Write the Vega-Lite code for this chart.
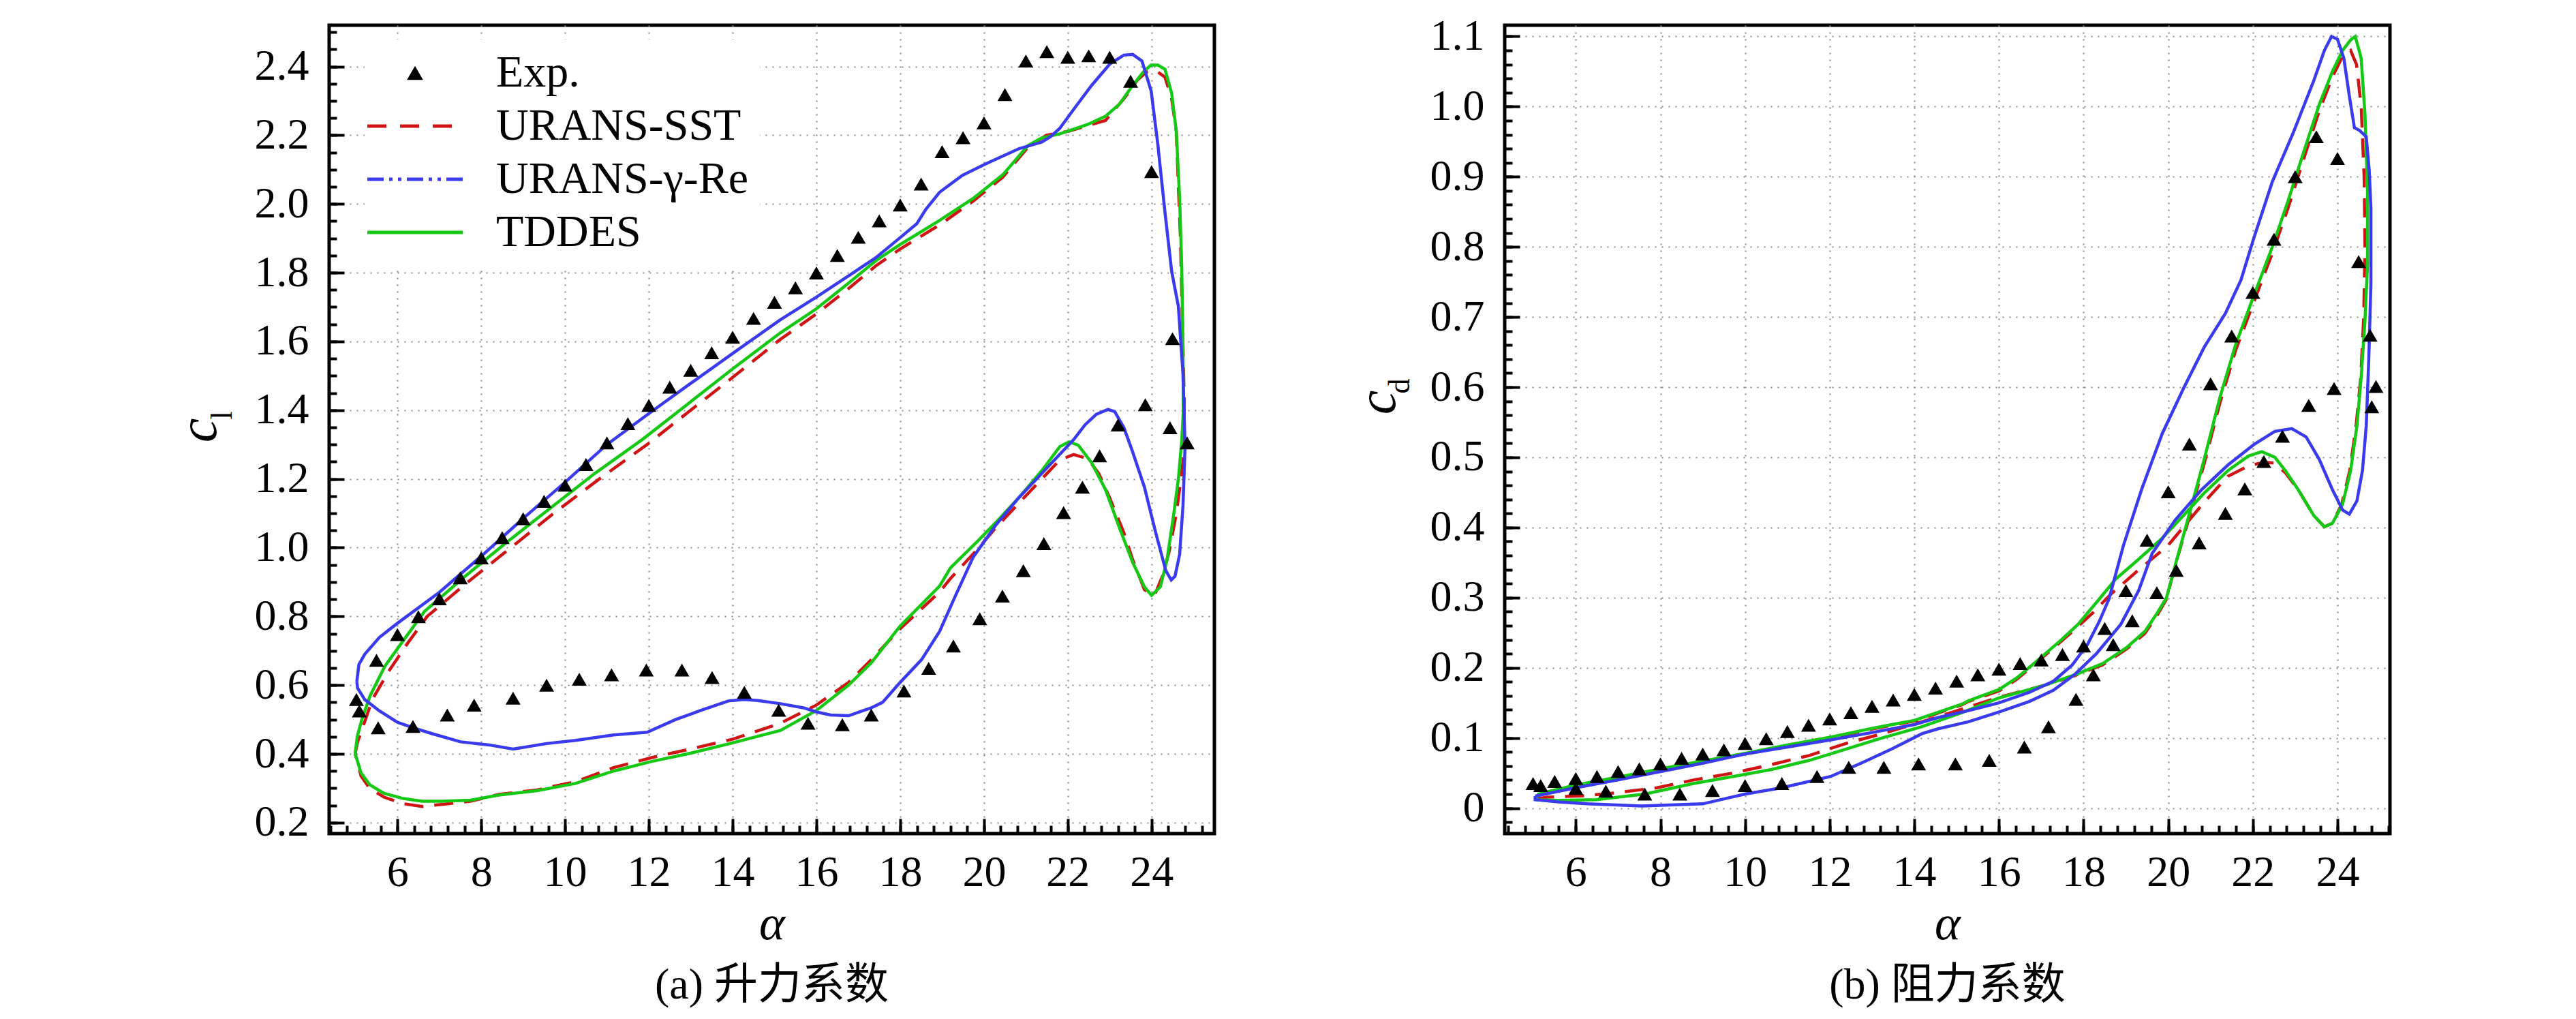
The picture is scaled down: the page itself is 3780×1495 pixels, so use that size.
{
  "$schema": "https://vega.github.io/schema/vega-lite/v6.json",
  "background": "white",
  "padding": {"left": 249, "top": 18, "right": 5, "bottom": 5},
  "spacing": 194,
  "datasets": {
    "liftExp": [
      {"a":5.02,"v":0.558},{"a":5.09,"v":0.525},{"a":5.54,"v":0.476},{"a":6.37,"v":0.48},{"a":7.19,"v":0.513},{"a":7.83,"v":0.542},{"a":8.76,"v":0.562},{"a":9.56,"v":0.6},{"a":10.34,"v":0.617},{"a":11.11,"v":0.63},{"a":11.94,"v":0.644},{"a":12.79,"v":0.644},{"a":13.51,"v":0.622},{"a":14.28,"v":0.579},{"a":15.1,"v":0.527},{"a":15.8,"v":0.489},{"a":16.62,"v":0.485},{"a":17.31,"v":0.513},{"a":18.09,"v":0.583},{"a":18.68,"v":0.649},{"a":19.27,"v":0.714},{"a":19.9,"v":0.793},{"a":20.44,"v":0.859},{"a":20.94,"v":0.933},{"a":21.43,"v":1.012},{"a":21.9,"v":1.102},{"a":22.35,"v":1.176},{"a":22.76,"v":1.267},{"a":23.2,"v":1.357},{"a":23.85,"v":1.416},{"a":24.44,"v":1.349},{"a":24.85,"v":1.305},
      {"a":5.5,"v":0.672},{"a":6.0,"v":0.747},{"a":6.5,"v":0.799},{"a":7.0,"v":0.851},{"a":7.5,"v":0.912},{"a":8.0,"v":0.97},{"a":8.5,"v":1.029},{"a":9.0,"v":1.084},{"a":9.5,"v":1.135},{"a":10.0,"v":1.182},{"a":10.5,"v":1.242},{"a":11.0,"v":1.305},{"a":11.5,"v":1.361},{"a":12.0,"v":1.414},{"a":12.5,"v":1.467},{"a":13.0,"v":1.516},{"a":13.5,"v":1.567},{"a":14.0,"v":1.612},{"a":14.5,"v":1.667},{"a":15.0,"v":1.714},{"a":15.5,"v":1.756},{"a":16.0,"v":1.799},{"a":16.5,"v":1.85},{"a":17.0,"v":1.903},{"a":17.5,"v":1.951},{"a":18.0,"v":1.997},{"a":18.5,"v":2.058},{"a":19.0,"v":2.152},{"a":19.5,"v":2.193},{"a":20.0,"v":2.236},{"a":20.5,"v":2.318},{"a":21.0,"v":2.416},{"a":21.5,"v":2.443},{"a":22.0,"v":2.427},{"a":22.5,"v":2.431},{"a":23.0,"v":2.427},{"a":23.5,"v":2.357},{"a":24.0,"v":2.094},{"a":24.5,"v":1.608}
    ],
    "liftCfd": [
      {"m":"URANS-SST","a":4.99,"v":0.4},{"m":"URANS-SST","a":5.05,"v":0.435},{"m":"URANS-SST","a":5.17,"v":0.476},{"m":"URANS-SST","a":5.4,"v":0.558},{"m":"URANS-SST","a":5.79,"v":0.64},{"m":"URANS-SST","a":6.25,"v":0.723},{"m":"URANS-SST","a":6.71,"v":0.8},{"m":"URANS-SST","a":7.68,"v":0.9},{"m":"URANS-SST","a":8.71,"v":1.0},{"m":"URANS-SST","a":9.73,"v":1.1},{"m":"URANS-SST","a":10.82,"v":1.2},{"m":"URANS-SST","a":11.96,"v":1.3},{"m":"URANS-SST","a":13.0,"v":1.4},{"m":"URANS-SST","a":14.05,"v":1.5},{"m":"URANS-SST","a":15.14,"v":1.606},{"m":"URANS-SST","a":16.0,"v":1.68},{"m":"URANS-SST","a":16.77,"v":1.754},{"m":"URANS-SST","a":17.42,"v":1.82},{"m":"URANS-SST","a":18.0,"v":1.869},{"m":"URANS-SST","a":18.94,"v":1.939},{"m":"URANS-SST","a":19.74,"v":2.008},{"m":"URANS-SST","a":20.45,"v":2.078},{"m":"URANS-SST","a":21.05,"v":2.165},{"m":"URANS-SST","a":21.49,"v":2.2},{"m":"URANS-SST","a":22.03,"v":2.212},{"m":"URANS-SST","a":22.9,"v":2.243},{"m":"URANS-SST","a":23.34,"v":2.306},{"m":"URANS-SST","a":23.66,"v":2.36},{"m":"URANS-SST","a":23.88,"v":2.384},{"m":"URANS-SST","a":24.1,"v":2.388},{"m":"URANS-SST","a":24.32,"v":2.369},{"m":"URANS-SST","a":24.48,"v":2.306},{"m":"URANS-SST","a":24.59,"v":2.212},{"m":"URANS-SST","a":24.64,"v":2.055},{"m":"URANS-SST","a":24.69,"v":1.898},{"m":"URANS-SST","a":24.72,"v":1.741},{"m":"URANS-SST","a":24.75,"v":1.584},{"m":"URANS-SST","a":24.78,"v":1.427},{"m":"URANS-SST","a":24.78,"v":1.28},{"m":"URANS-SST","a":24.7,"v":1.2},{"m":"URANS-SST","a":24.59,"v":1.098},{"m":"URANS-SST","a":24.42,"v":0.988},{"m":"URANS-SST","a":24.26,"v":0.917},{"m":"URANS-SST","a":24.1,"v":0.87},{"m":"URANS-SST","a":24.0,"v":0.862},{"m":"URANS-SST","a":23.83,"v":0.878},{"m":"URANS-SST","a":23.55,"v":0.965},{"m":"URANS-SST","a":23.34,"v":1.043},{"m":"URANS-SST","a":23.0,"v":1.145},{"m":"URANS-SST","a":22.74,"v":1.216},{"m":"URANS-SST","a":22.47,"v":1.259},{"m":"URANS-SST","a":22.14,"v":1.271},{"m":"URANS-SST","a":21.81,"v":1.255},{"m":"URANS-SST","a":21.38,"v":1.2},{"m":"URANS-SST","a":20.83,"v":1.129},{"m":"URANS-SST","a":20.29,"v":1.059},{"m":"URANS-SST","a":19.85,"v":0.996},{"m":"URANS-SST","a":19.2,"v":0.91},{"m":"URANS-SST","a":18.94,"v":0.871},{"m":"URANS-SST","a":18.0,"v":0.764},{"m":"URANS-SST","a":17.31,"v":0.674},{"m":"URANS-SST","a":16.77,"v":0.608},{"m":"URANS-SST","a":16.0,"v":0.542},{"m":"URANS-SST","a":15.14,"v":0.489},{"m":"URANS-SST","a":14.01,"v":0.443},{"m":"URANS-SST","a":12.99,"v":0.414},{"m":"URANS-SST","a":12.07,"v":0.389},{"m":"URANS-SST","a":11.16,"v":0.36},{"m":"URANS-SST","a":10.25,"v":0.319},{"m":"URANS-SST","a":9.33,"v":0.295},{"m":"URANS-SST","a":8.42,"v":0.282},{"m":"URANS-SST","a":7.74,"v":0.262},{"m":"URANS-SST","a":7.05,"v":0.253},{"m":"URANS-SST","a":6.59,"v":0.247},{"m":"URANS-SST","a":6.14,"v":0.255},{"m":"URANS-SST","a":5.68,"v":0.274},{"m":"URANS-SST","a":5.34,"v":0.299},{"m":"URANS-SST","a":5.13,"v":0.336},{"m":"URANS-SST","a":5.03,"v":0.385},{"m":"URANS-SST","a":4.99,"v":0.4},
      {"m":"TDDES","a":4.99,"v":0.4},{"m":"TDDES","a":5.04,"v":0.45},{"m":"TDDES","a":5.15,"v":0.5},{"m":"TDDES","a":5.35,"v":0.57},{"m":"TDDES","a":5.7,"v":0.655},{"m":"TDDES","a":6.2,"v":0.74},{"m":"TDDES","a":6.65,"v":0.815},{"m":"TDDES","a":7.6,"v":0.915},{"m":"TDDES","a":8.6,"v":1.015},{"m":"TDDES","a":9.65,"v":1.115},{"m":"TDDES","a":10.7,"v":1.215},{"m":"TDDES","a":11.85,"v":1.315},{"m":"TDDES","a":12.9,"v":1.415},{"m":"TDDES","a":14.0,"v":1.52},{"m":"TDDES","a":15.14,"v":1.625},{"m":"TDDES","a":16.0,"v":1.695},{"m":"TDDES","a":16.77,"v":1.77},{"m":"TDDES","a":17.42,"v":1.835},{"m":"TDDES","a":18.0,"v":1.882},{"m":"TDDES","a":18.94,"v":1.952},{"m":"TDDES","a":19.74,"v":2.016},{"m":"TDDES","a":20.45,"v":2.085},{"m":"TDDES","a":21.05,"v":2.17},{"m":"TDDES","a":21.38,"v":2.192},{"m":"TDDES","a":21.81,"v":2.204},{"m":"TDDES","a":22.47,"v":2.231},{"m":"TDDES","a":22.9,"v":2.255},{"m":"TDDES","a":23.23,"v":2.29},{"m":"TDDES","a":23.55,"v":2.345},{"m":"TDDES","a":23.83,"v":2.388},{"m":"TDDES","a":23.99,"v":2.404},{"m":"TDDES","a":24.15,"v":2.404},{"m":"TDDES","a":24.32,"v":2.392},{"m":"TDDES","a":24.48,"v":2.322},{"m":"TDDES","a":24.59,"v":2.212},{"m":"TDDES","a":24.67,"v":2.016},{"m":"TDDES","a":24.72,"v":1.82},{"m":"TDDES","a":24.75,"v":1.584},{"m":"TDDES","a":24.76,"v":1.4},{"m":"TDDES","a":24.72,"v":1.31},{"m":"TDDES","a":24.64,"v":1.2},{"m":"TDDES","a":24.53,"v":1.098},{"m":"TDDES","a":24.37,"v":0.965},{"m":"TDDES","a":24.21,"v":0.886},{"m":"TDDES","a":24.0,"v":0.861},{"m":"TDDES","a":23.83,"v":0.886},{"m":"TDDES","a":23.55,"v":0.957},{"m":"TDDES","a":23.23,"v":1.059},{"m":"TDDES","a":22.9,"v":1.169},{"m":"TDDES","a":22.57,"v":1.247},{"m":"TDDES","a":22.25,"v":1.298},{"m":"TDDES","a":22.03,"v":1.308},{"m":"TDDES","a":21.81,"v":1.294},{"m":"TDDES","a":21.38,"v":1.224},{"m":"TDDES","a":20.83,"v":1.145},{"m":"TDDES","a":20.29,"v":1.074},{"m":"TDDES","a":19.85,"v":1.019},{"m":"TDDES","a":19.2,"v":0.941},{"m":"TDDES","a":18.94,"v":0.888},{"m":"TDDES","a":18.0,"v":0.772},{"m":"TDDES","a":17.31,"v":0.665},{"m":"TDDES","a":16.77,"v":0.6},{"m":"TDDES","a":16.0,"v":0.526},{"m":"TDDES","a":15.14,"v":0.468},{"m":"TDDES","a":14.0,"v":0.432},{"m":"TDDES","a":13.0,"v":0.402},{"m":"TDDES","a":12.07,"v":0.378},{"m":"TDDES","a":11.16,"v":0.35},{"m":"TDDES","a":10.25,"v":0.314},{"m":"TDDES","a":9.33,"v":0.293},{"m":"TDDES","a":8.42,"v":0.28},{"m":"TDDES","a":7.74,"v":0.265},{"m":"TDDES","a":7.05,"v":0.262},{"m":"TDDES","a":6.59,"v":0.262},{"m":"TDDES","a":6.14,"v":0.27},{"m":"TDDES","a":5.68,"v":0.285},{"m":"TDDES","a":5.34,"v":0.31},{"m":"TDDES","a":5.13,"v":0.345},{"m":"TDDES","a":5.03,"v":0.385},{"m":"TDDES","a":4.99,"v":0.4},
      {"m":"URANS-γ-Re","a":5.03,"v":0.61},{"m":"URANS-γ-Re","a":5.08,"v":0.66},{"m":"URANS-γ-Re","a":5.22,"v":0.69},{"m":"URANS-γ-Re","a":5.57,"v":0.739},{"m":"URANS-γ-Re","a":6.0,"v":0.78},{"m":"URANS-γ-Re","a":7.0,"v":0.87},{"m":"URANS-γ-Re","a":8.0,"v":0.975},{"m":"URANS-γ-Re","a":9.0,"v":1.085},{"m":"URANS-γ-Re","a":10.0,"v":1.19},{"m":"URANS-γ-Re","a":11.0,"v":1.3},{"m":"URANS-γ-Re","a":12.0,"v":1.39},{"m":"URANS-γ-Re","a":13.0,"v":1.478},{"m":"URANS-γ-Re","a":14.0,"v":1.565},{"m":"URANS-γ-Re","a":15.14,"v":1.663},{"m":"URANS-γ-Re","a":16.0,"v":1.729},{"m":"URANS-γ-Re","a":16.77,"v":1.791},{"m":"URANS-γ-Re","a":17.42,"v":1.844},{"m":"URANS-γ-Re","a":18.0,"v":1.902},{"m":"URANS-γ-Re","a":18.4,"v":1.943},{"m":"URANS-γ-Re","a":18.61,"v":1.984},{"m":"URANS-γ-Re","a":18.94,"v":2.034},{"m":"URANS-γ-Re","a":19.48,"v":2.083},{"m":"URANS-γ-Re","a":20.03,"v":2.116},{"m":"URANS-γ-Re","a":20.84,"v":2.161},{"m":"URANS-γ-Re","a":21.38,"v":2.18},{"m":"URANS-γ-Re","a":21.59,"v":2.196},{"m":"URANS-γ-Re","a":21.81,"v":2.22},{"m":"URANS-γ-Re","a":22.14,"v":2.275},{"m":"URANS-γ-Re","a":22.57,"v":2.345},{"m":"URANS-γ-Re","a":23.01,"v":2.408},{"m":"URANS-γ-Re","a":23.34,"v":2.433},{"m":"URANS-γ-Re","a":23.55,"v":2.435},{"m":"URANS-γ-Re","a":23.77,"v":2.416},{"m":"URANS-γ-Re","a":23.99,"v":2.329},{"m":"URANS-γ-Re","a":24.15,"v":2.173},{"m":"URANS-γ-Re","a":24.32,"v":1.976},{"m":"URANS-γ-Re","a":24.48,"v":1.804},{"m":"URANS-γ-Re","a":24.64,"v":1.702},{"m":"URANS-γ-Re","a":24.75,"v":1.506},{"m":"URANS-γ-Re","a":24.8,"v":1.296},{"m":"URANS-γ-Re","a":24.75,"v":1.122},{"m":"URANS-γ-Re","a":24.67,"v":0.98},{"m":"URANS-γ-Re","a":24.56,"v":0.917},{"m":"URANS-γ-Re","a":24.47,"v":0.906},{"m":"URANS-γ-Re","a":24.34,"v":0.933},{"m":"URANS-γ-Re","a":24.1,"v":1.043},{"m":"URANS-γ-Re","a":23.83,"v":1.176},{"m":"URANS-γ-Re","a":23.55,"v":1.278},{"m":"URANS-γ-Re","a":23.34,"v":1.349},{"m":"URANS-γ-Re","a":23.12,"v":1.396},{"m":"URANS-γ-Re","a":22.96,"v":1.402},{"m":"URANS-γ-Re","a":22.68,"v":1.388},{"m":"URANS-γ-Re","a":22.41,"v":1.357},{"m":"URANS-γ-Re","a":22.14,"v":1.314},{"m":"URANS-γ-Re","a":21.38,"v":1.216},{"m":"URANS-γ-Re","a":20.83,"v":1.145},{"m":"URANS-γ-Re","a":20.29,"v":1.067},{"m":"URANS-γ-Re","a":19.74,"v":0.972},{"m":"URANS-γ-Re","a":19.3,"v":0.855},{"m":"URANS-γ-Re","a":18.94,"v":0.756},{"m":"URANS-γ-Re","a":18.51,"v":0.674},{"m":"URANS-γ-Re","a":18.0,"v":0.608},{"m":"URANS-γ-Re","a":17.58,"v":0.55},{"m":"URANS-γ-Re","a":17.31,"v":0.534},{"m":"URANS-γ-Re","a":16.77,"v":0.511},{"m":"URANS-γ-Re","a":16.34,"v":0.513},{"m":"URANS-γ-Re","a":16.0,"v":0.522},{"m":"URANS-γ-Re","a":15.69,"v":0.534},{"m":"URANS-γ-Re","a":15.14,"v":0.546},{"m":"URANS-γ-Re","a":14.6,"v":0.555},{"m":"URANS-γ-Re","a":14.28,"v":0.558},{"m":"URANS-γ-Re","a":13.9,"v":0.554},{"m":"URANS-γ-Re","a":13.21,"v":0.525},{"m":"URANS-γ-Re","a":12.64,"v":0.5},{"m":"URANS-γ-Re","a":11.96,"v":0.463},{"m":"URANS-γ-Re","a":11.16,"v":0.455},{"m":"URANS-γ-Re","a":10.25,"v":0.439},{"m":"URANS-γ-Re","a":9.56,"v":0.43},{"m":"URANS-γ-Re","a":8.76,"v":0.414},{"m":"URANS-γ-Re","a":8.19,"v":0.426},{"m":"URANS-γ-Re","a":7.51,"v":0.435},{"m":"URANS-γ-Re","a":6.82,"v":0.459},{"m":"URANS-γ-Re","a":6.37,"v":0.476},{"m":"URANS-γ-Re","a":6.0,"v":0.492},{"m":"URANS-γ-Re","a":5.57,"v":0.525},{"m":"URANS-γ-Re","a":5.22,"v":0.558},{"m":"URANS-γ-Re","a":5.05,"v":0.591},{"m":"URANS-γ-Re","a":5.03,"v":0.61}
    ],
    "dragExp": [
      {"a":4.99,"v":0.035},{"a":5.17,"v":0.032},{"a":5.5,"v":0.038},{"a":6.0,"v":0.042},{"a":6.5,"v":0.045},{"a":7.0,"v":0.052},{"a":7.5,"v":0.056},{"a":8.0,"v":0.063},{"a":8.5,"v":0.071},{"a":9.0,"v":0.077},{"a":9.5,"v":0.083},{"a":10.0,"v":0.092},{"a":10.5,"v":0.099},{"a":11.0,"v":0.109},{"a":11.5,"v":0.118},{"a":12.0,"v":0.127},{"a":12.5,"v":0.136},{"a":13.0,"v":0.145},{"a":13.5,"v":0.154},{"a":14.0,"v":0.162},{"a":14.5,"v":0.171},{"a":15.0,"v":0.181},{"a":15.5,"v":0.19},{"a":16.0,"v":0.198},{"a":16.5,"v":0.206},{"a":17.0,"v":0.211},{"a":17.5,"v":0.219},{"a":18.0,"v":0.231},{"a":18.5,"v":0.256},{"a":19.0,"v":0.31},{"a":19.5,"v":0.382},{"a":20.0,"v":0.451},{"a":20.5,"v":0.519},{"a":21.0,"v":0.605},{"a":21.5,"v":0.673},{"a":22.0,"v":0.735},{"a":22.5,"v":0.811},{"a":23.0,"v":0.9},{"a":23.5,"v":0.957},{"a":24.0,"v":0.926},{"a":24.5,"v":0.779},{"a":24.77,"v":0.674},{"a":24.91,"v":0.601},{"a":24.81,"v":0.572},{"a":23.92,"v":0.598},{"a":23.32,"v":0.574},{"a":22.7,"v":0.53},{"a":22.26,"v":0.494},{"a":21.81,"v":0.455},{"a":21.35,"v":0.42},{"a":20.73,"v":0.378},{"a":20.19,"v":0.339},{"a":19.73,"v":0.307},{"a":19.15,"v":0.267},{"a":18.7,"v":0.233},{"a":18.23,"v":0.19},{"a":17.82,"v":0.155},{"a":17.17,"v":0.116},{"a":16.6,"v":0.087},{"a":15.77,"v":0.068},{"a":14.97,"v":0.063},{"a":14.1,"v":0.063},{"a":13.28,"v":0.058},{"a":12.45,"v":0.058},{"a":11.7,"v":0.045},{"a":10.87,"v":0.035},{"a":10.0,"v":0.032},{"a":9.23,"v":0.025},{"a":8.46,"v":0.02},{"a":7.63,"v":0.02},{"a":6.71,"v":0.024},{"a":6.0,"v":0.028}
    ],
    "dragCfd": [
      {"m":"URANS-SST","a":5.04,"v":0.013},{"m":"URANS-SST","a":5.33,"v":0.0156},{"m":"URANS-SST","a":6.12,"v":0.0172},{"m":"URANS-SST","a":6.99,"v":0.022},{"m":"URANS-SST","a":7.92,"v":0.029},{"m":"URANS-SST","a":8.78,"v":0.04},{"m":"URANS-SST","a":9.72,"v":0.05},{"m":"URANS-SST","a":10.62,"v":0.062},{"m":"URANS-SST","a":11.52,"v":0.075},{"m":"URANS-SST","a":12.38,"v":0.092},{"m":"URANS-SST","a":13.24,"v":0.106},{"m":"URANS-SST","a":14.18,"v":0.123},{"m":"URANS-SST","a":15.12,"v":0.141},{"m":"URANS-SST","a":16.0,"v":0.158},{"m":"URANS-SST","a":17.08,"v":0.175},{"m":"URANS-SST","a":17.8,"v":0.189},{"m":"URANS-SST","a":18.45,"v":0.204},{"m":"URANS-SST","a":19.02,"v":0.227},{"m":"URANS-SST","a":19.45,"v":0.249},{"m":"URANS-SST","a":19.74,"v":0.275},{"m":"URANS-SST","a":19.96,"v":0.298},{"m":"URANS-SST","a":20.17,"v":0.347},{"m":"URANS-SST","a":20.48,"v":0.411},{"m":"URANS-SST","a":20.85,"v":0.491},{"m":"URANS-SST","a":21.22,"v":0.577},{"m":"URANS-SST","a":21.59,"v":0.652},{"m":"URANS-SST","a":22.02,"v":0.721},{"m":"URANS-SST","a":22.46,"v":0.791},{"m":"URANS-SST","a":22.83,"v":0.855},{"m":"URANS-SST","a":23.2,"v":0.925},{"m":"URANS-SST","a":23.57,"v":0.994},{"m":"URANS-SST","a":23.88,"v":1.042},{"m":"URANS-SST","a":24.12,"v":1.072},{"m":"URANS-SST","a":24.31,"v":1.08},{"m":"URANS-SST","a":24.45,"v":1.06},{"m":"URANS-SST","a":24.56,"v":1.0},{"m":"URANS-SST","a":24.63,"v":0.9},{"m":"URANS-SST","a":24.65,"v":0.8},{"m":"URANS-SST","a":24.62,"v":0.7},{"m":"URANS-SST","a":24.55,"v":0.614},{"m":"URANS-SST","a":24.44,"v":0.545},{"m":"URANS-SST","a":24.29,"v":0.481},{"m":"URANS-SST","a":24.1,"v":0.433},{"m":"URANS-SST","a":23.88,"v":0.406},{"m":"URANS-SST","a":23.69,"v":0.401},{"m":"URANS-SST","a":23.44,"v":0.417},{"m":"URANS-SST","a":23.07,"v":0.454},{"m":"URANS-SST","a":22.77,"v":0.478},{"m":"URANS-SST","a":22.5,"v":0.492},{"m":"URANS-SST","a":22.27,"v":0.493},{"m":"URANS-SST","a":21.9,"v":0.488},{"m":"URANS-SST","a":21.41,"v":0.473},{"m":"URANS-SST","a":20.85,"v":0.436},{"m":"URANS-SST","a":19.99,"v":0.374},{"m":"URANS-SST","a":19.25,"v":0.337},{"m":"URANS-SST","a":18.63,"v":0.304},{"m":"URANS-SST","a":18.23,"v":0.279},{"m":"URANS-SST","a":17.87,"v":0.259},{"m":"URANS-SST","a":17.44,"v":0.236},{"m":"URANS-SST","a":16.94,"v":0.21},{"m":"URANS-SST","a":16.43,"v":0.184},{"m":"URANS-SST","a":16.0,"v":0.167},{"m":"URANS-SST","a":15.28,"v":0.152},{"m":"URANS-SST","a":15.12,"v":0.147},{"m":"URANS-SST","a":14.0,"v":0.124},{"m":"URANS-SST","a":13.03,"v":0.113},{"m":"URANS-SST","a":12.0,"v":0.1},{"m":"URANS-SST","a":11.0,"v":0.089},{"m":"URANS-SST","a":10.0,"v":0.077},{"m":"URANS-SST","a":9.0,"v":0.066},{"m":"URANS-SST","a":8.0,"v":0.055},{"m":"URANS-SST","a":6.99,"v":0.043},{"m":"URANS-SST","a":6.0,"v":0.032},{"m":"URANS-SST","a":5.12,"v":0.02},{"m":"URANS-SST","a":5.04,"v":0.013},
      {"m":"TDDES","a":5.04,"v":0.012},{"m":"TDDES","a":5.55,"v":0.011},{"m":"TDDES","a":6.48,"v":0.012},{"m":"TDDES","a":7.63,"v":0.02},{"m":"TDDES","a":8.78,"v":0.035},{"m":"TDDES","a":9.72,"v":0.045},{"m":"TDDES","a":10.62,"v":0.055},{"m":"TDDES","a":11.52,"v":0.068},{"m":"TDDES","a":12.38,"v":0.084},{"m":"TDDES","a":13.24,"v":0.1},{"m":"TDDES","a":14.18,"v":0.116},{"m":"TDDES","a":15.12,"v":0.136},{"m":"TDDES","a":16.0,"v":0.157},{"m":"TDDES","a":17.08,"v":0.175},{"m":"TDDES","a":17.8,"v":0.19},{"m":"TDDES","a":18.45,"v":0.206},{"m":"TDDES","a":19.02,"v":0.229},{"m":"TDDES","a":19.45,"v":0.252},{"m":"TDDES","a":19.74,"v":0.278},{"m":"TDDES","a":19.96,"v":0.3},{"m":"TDDES","a":20.17,"v":0.347},{"m":"TDDES","a":20.48,"v":0.415},{"m":"TDDES","a":20.85,"v":0.497},{"m":"TDDES","a":21.22,"v":0.585},{"m":"TDDES","a":21.59,"v":0.66},{"m":"TDDES","a":22.02,"v":0.73},{"m":"TDDES","a":22.46,"v":0.8},{"m":"TDDES","a":22.83,"v":0.865},{"m":"TDDES","a":23.2,"v":0.935},{"m":"TDDES","a":23.57,"v":1.003},{"m":"TDDES","a":23.88,"v":1.05},{"m":"TDDES","a":24.12,"v":1.08},{"m":"TDDES","a":24.31,"v":1.095},{"m":"TDDES","a":24.42,"v":1.1},{"m":"TDDES","a":24.56,"v":1.069},{"m":"TDDES","a":24.65,"v":0.989},{"m":"TDDES","a":24.71,"v":0.882},{"m":"TDDES","a":24.71,"v":0.775},{"m":"TDDES","a":24.65,"v":0.695},{"m":"TDDES","a":24.56,"v":0.614},{"m":"TDDES","a":24.46,"v":0.545},{"m":"TDDES","a":24.31,"v":0.481},{"m":"TDDES","a":24.12,"v":0.433},{"m":"TDDES","a":23.88,"v":0.406},{"m":"TDDES","a":23.69,"v":0.401},{"m":"TDDES","a":23.44,"v":0.417},{"m":"TDDES","a":23.07,"v":0.454},{"m":"TDDES","a":22.77,"v":0.481},{"m":"TDDES","a":22.52,"v":0.5},{"m":"TDDES","a":22.21,"v":0.508},{"m":"TDDES","a":21.9,"v":0.502},{"m":"TDDES","a":21.41,"v":0.481},{"m":"TDDES","a":20.85,"v":0.449},{"m":"TDDES","a":20.36,"v":0.417},{"m":"TDDES","a":19.86,"v":0.385},{"m":"TDDES","a":19.25,"v":0.352},{"m":"TDDES","a":18.75,"v":0.326},{"m":"TDDES","a":18.4,"v":0.3},{"m":"TDDES","a":17.87,"v":0.262},{"m":"TDDES","a":17.44,"v":0.238},{"m":"TDDES","a":16.94,"v":0.212},{"m":"TDDES","a":16.43,"v":0.186},{"m":"TDDES","a":16.0,"v":0.169},{"m":"TDDES","a":15.28,"v":0.153},{"m":"TDDES","a":15.12,"v":0.148},{"m":"TDDES","a":14.0,"v":0.125},{"m":"TDDES","a":13.03,"v":0.114},{"m":"TDDES","a":12.0,"v":0.101},{"m":"TDDES","a":11.0,"v":0.09},{"m":"TDDES","a":10.0,"v":0.078},{"m":"TDDES","a":9.0,"v":0.067},{"m":"TDDES","a":8.0,"v":0.056},{"m":"TDDES","a":6.99,"v":0.044},{"m":"TDDES","a":6.0,"v":0.033},{"m":"TDDES","a":5.12,"v":0.02},{"m":"TDDES","a":5.04,"v":0.012},
      {"m":"URANS-γ-Re","a":5.04,"v":0.017},{"m":"URANS-γ-Re","a":6.0,"v":0.029},{"m":"URANS-γ-Re","a":6.99,"v":0.04},{"m":"URANS-γ-Re","a":8.0,"v":0.052},{"m":"URANS-γ-Re","a":9.0,"v":0.064},{"m":"URANS-γ-Re","a":10.0,"v":0.077},{"m":"URANS-γ-Re","a":11.0,"v":0.087},{"m":"URANS-γ-Re","a":12.0,"v":0.097},{"m":"URANS-γ-Re","a":13.03,"v":0.108},{"m":"URANS-γ-Re","a":14.0,"v":0.119},{"m":"URANS-γ-Re","a":14.56,"v":0.129},{"m":"URANS-γ-Re","a":15.28,"v":0.139},{"m":"URANS-γ-Re","a":16.0,"v":0.15},{"m":"URANS-γ-Re","a":16.72,"v":0.165},{"m":"URANS-γ-Re","a":17.29,"v":0.181},{"m":"URANS-γ-Re","a":17.73,"v":0.204},{"m":"URANS-γ-Re","a":18.09,"v":0.233},{"m":"URANS-γ-Re","a":18.37,"v":0.266},{"m":"URANS-γ-Re","a":18.6,"v":0.298},{"m":"URANS-γ-Re","a":18.94,"v":0.374},{"m":"URANS-γ-Re","a":19.37,"v":0.454},{"m":"URANS-γ-Re","a":19.86,"v":0.534},{"m":"URANS-γ-Re","a":20.36,"v":0.598},{"m":"URANS-γ-Re","a":20.85,"v":0.657},{"m":"URANS-γ-Re","a":21.35,"v":0.705},{"m":"URANS-γ-Re","a":21.72,"v":0.753},{"m":"URANS-γ-Re","a":22.02,"v":0.812},{"m":"URANS-γ-Re","a":22.46,"v":0.893},{"m":"URANS-γ-Re","a":22.95,"v":0.962},{"m":"URANS-γ-Re","a":23.44,"v":1.037},{"m":"URANS-γ-Re","a":23.69,"v":1.08},{"m":"URANS-γ-Re","a":23.86,"v":1.1},{"m":"URANS-γ-Re","a":24.0,"v":1.096},{"m":"URANS-γ-Re","a":24.15,"v":1.069},{"m":"URANS-γ-Re","a":24.28,"v":1.015},{"m":"URANS-γ-Re","a":24.4,"v":0.97},{"m":"URANS-γ-Re","a":24.52,"v":0.966},{"m":"URANS-γ-Re","a":24.68,"v":0.957},{"m":"URANS-γ-Re","a":24.75,"v":0.909},{"m":"URANS-γ-Re","a":24.79,"v":0.855},{"m":"URANS-γ-Re","a":24.79,"v":0.748},{"m":"URANS-γ-Re","a":24.74,"v":0.641},{"m":"URANS-γ-Re","a":24.68,"v":0.545},{"m":"URANS-γ-Re","a":24.59,"v":0.481},{"m":"URANS-γ-Re","a":24.46,"v":0.438},{"m":"URANS-γ-Re","a":24.28,"v":0.419},{"m":"URANS-γ-Re","a":24.12,"v":0.425},{"m":"URANS-γ-Re","a":23.88,"v":0.454},{"m":"URANS-γ-Re","a":23.57,"v":0.497},{"m":"URANS-γ-Re","a":23.26,"v":0.529},{"m":"URANS-γ-Re","a":22.92,"v":0.541},{"m":"URANS-γ-Re","a":22.52,"v":0.537},{"m":"URANS-γ-Re","a":22.02,"v":0.518},{"m":"URANS-γ-Re","a":21.41,"v":0.489},{"m":"URANS-γ-Re","a":20.79,"v":0.454},{"m":"URANS-γ-Re","a":20.17,"v":0.411},{"m":"URANS-γ-Re","a":19.62,"v":0.363},{"m":"URANS-γ-Re","a":19.3,"v":0.31},{"m":"URANS-γ-Re","a":18.88,"v":0.262},{"m":"URANS-γ-Re","a":18.3,"v":0.22},{"m":"URANS-γ-Re","a":17.8,"v":0.191},{"m":"URANS-γ-Re","a":17.29,"v":0.168},{"m":"URANS-γ-Re","a":16.72,"v":0.152},{"m":"URANS-γ-Re","a":16.0,"v":0.137},{"m":"URANS-γ-Re","a":15.28,"v":0.123},{"m":"URANS-γ-Re","a":14.56,"v":0.113},{"m":"URANS-γ-Re","a":14.18,"v":0.106},{"m":"URANS-γ-Re","a":13.46,"v":0.084},{"m":"URANS-γ-Re","a":12.74,"v":0.064},{"m":"URANS-γ-Re","a":12.02,"v":0.045},{"m":"URANS-γ-Re","a":10.87,"v":0.029},{"m":"URANS-γ-Re","a":10.0,"v":0.02},{"m":"URANS-γ-Re","a":9.0,"v":0.006},{"m":"URANS-γ-Re","a":7.56,"v":0.003},{"m":"URANS-γ-Re","a":6.27,"v":0.006},{"m":"URANS-γ-Re","a":5.55,"v":0.009},{"m":"URANS-γ-Re","a":5.04,"v":0.012},{"m":"URANS-γ-Re","a":5.04,"v":0.017}
    ]
  },
  "hconcat": [
    {
      "width": 1299,
      "height": 1186,
      "title": {"text": "(a) 升力系数", "orient": "bottom", "anchor": "middle", "offset": 23},
      "layer": [
        {
          "data": {"name": "liftCfd"},
          "transform": [{"filter": "datum.m === 'URANS-SST'"}],
          "mark": {"type": "line", "strokeWidth": 4.5, "strokeDash": [28, 16]},
          "encoding": {
            "x": {"field": "a", "type": "quantitative", "scale": {"domain": [4.37, 25.5], "nice": false, "zero": false},
              "axis": {"orient": "bottom", "values": [6, 8, 10, 12, 14, 16, 18, 20, 22, 24], "grid": true, "tickSize": -22, "labelPadding": 47, "title": "α", "titleFontStyle": "italic", "titleFontSize": 72, "titlePadding": 8}},
            "y": {"field": "v", "type": "quantitative", "scale": {"domain": [0.168, 2.52], "nice": false, "zero": false},
              "axis": {"orient": "left", "values": [0.2, 0.4, 0.6, 0.8, 1.0, 1.2, 1.4, 1.6, 1.8, 2.0, 2.2, 2.4], "format": ".1f", "grid": true, "tickSize": -22, "labelPadding": 52, "title": "c", "titleFontStyle": "italic", "titleFontSize": 80, "titleX": -150, "titleY": 594}},
            "color": {"field": "m", "type": "nominal",
              "scale": {"domain": ["Exp.", "URANS-SST", "URANS-γ-Re", "TDDES"], "range": ["black", "#d01414", "#3a3aee", "#14c814"]},
              "legend": {
                "orient": "none", "legendX": 52, "legendY": 21, "title": null,
                "fillColor": "white", "padding": 16, "rowPadding": 12,
                "labelFont": "Liberation Serif", "labelFontSize": 66, "labelColor": "black", "labelLimit": 0, "labelOffset": 86,
                "symbolSize": 19600, "symbolStrokeWidth": 5, "symbolType": "stroke", "symbolOffset": 25,
                "encode": {"symbols": {"update": {
                  "shape": {"signal": "datum.value === 'Exp.' ? 'triangle-up' : 'stroke'"},
                  "size": {"signal": "datum.value === 'Exp.' ? 560 : 19600"},
                  "fill": {"signal": "datum.value === 'Exp.' ? 'black' : 'transparent'"},
                  "stroke": {"signal": "datum.value === 'Exp.' ? 'black' : datum.value === 'URANS-SST' ? '#d01414' : datum.value === 'TDDES' ? '#14c814' : '#3a3aee'"},
                  "strokeWidth": {"signal": "datum.value === 'Exp.' ? 0 : 5"},
                  "strokeDash": {"signal": "datum.value === 'URANS-SST' ? [28, 20] : datum.value === 'URANS-γ-Re' ? [24, 8, 5, 8, 5, 8] : [1, 0]"},
                  "opacity": {"value": 1}
                }}}
              }},
            "order": {"value": null}
          }
        },
        {
          "data": {"name": "liftCfd"},
          "transform": [{"filter": "datum.m === 'TDDES'"}],
          "mark": {"type": "line", "strokeWidth": 4.5},
          "encoding": {
            "x": {"field": "a", "type": "quantitative", "scale": {"domain": [4.37, 25.5], "nice": false, "zero": false}, "axis": null},
            "y": {"field": "v", "type": "quantitative", "scale": {"domain": [0.168, 2.52], "nice": false, "zero": false}, "axis": null},
            "color": {"field": "m", "type": "nominal"},
            "order": {"value": null}
          }
        },
        {
          "data": {"name": "liftCfd"},
          "transform": [{"filter": "datum.m === 'URANS-γ-Re'"}],
          "mark": {"type": "line", "strokeWidth": 4.5},
          "encoding": {
            "x": {"field": "a", "type": "quantitative", "scale": {"domain": [4.37, 25.5], "nice": false, "zero": false}, "axis": null},
            "y": {"field": "v", "type": "quantitative", "scale": {"domain": [0.168, 2.52], "nice": false, "zero": false}, "axis": null},
            "color": {"field": "m", "type": "nominal"},
            "order": {"value": null}
          }
        },
        {
          "data": {"name": "liftExp"},
          "mark": {"type": "point", "shape": "triangle-up", "filled": true, "size": 480, "color": "black", "opacity": 1},
          "encoding": {
            "x": {"field": "a", "type": "quantitative", "scale": {"domain": [4.37, 25.5], "nice": false, "zero": false},
              "axis": {"orient": "bottom", "values": [4.4, 4.8, 5.2, 5.6, 6, 6.4, 6.8, 7.2, 7.6, 8, 8.4, 8.8, 9.2, 9.6, 10, 10.4, 10.8, 11.2, 11.6, 12, 12.4, 12.8, 13.2, 13.6, 14, 14.4, 14.8, 15.2, 15.6, 16, 16.4, 16.8, 17.2, 17.6, 18, 18.4, 18.8, 19.2, 19.6, 20, 20.4, 20.8, 21.2, 21.6, 22, 22.4, 22.8, 23.2, 23.6, 24, 24.4, 24.8, 25.2], "labels": false, "grid": false, "tickSize": -12, "title": null}},
            "y": {"field": "v", "type": "quantitative", "scale": {"domain": [0.168, 2.52], "nice": false, "zero": false},
              "axis": {"orient": "left", "values": [0.2, 0.25, 0.3, 0.35, 0.4, 0.45, 0.5, 0.55, 0.6, 0.65, 0.7, 0.75, 0.8, 0.85, 0.9, 0.95, 1.0, 1.05, 1.1, 1.15, 1.2, 1.25, 1.3, 1.35, 1.4, 1.45, 1.5, 1.55, 1.6, 1.65, 1.7, 1.75, 1.8, 1.85, 1.9, 1.95, 2.0, 2.05, 2.1, 2.15, 2.2, 2.25, 2.3, 2.35, 2.4, 2.45, 2.5], "labels": false, "grid": false, "tickSize": -11, "title": "l", "titleFontSize": 44, "titleX": -135, "titleY": 572}}
          }
        }
      ],
      "resolve": {"axis": {"x": "independent", "y": "independent"}}
    },
    {
      "width": 1299,
      "height": 1186,
      "title": {"text": "(b) 阻力系数", "orient": "bottom", "anchor": "middle", "offset": 23},
      "layer": [
        {
          "data": {"name": "dragCfd"},
          "transform": [{"filter": "datum.m === 'URANS-SST'"}],
          "mark": {"type": "line", "strokeWidth": 4.5, "strokeDash": [28, 16]},
          "encoding": {
            "x": {"field": "a", "type": "quantitative", "scale": {"domain": [4.32, 25.24], "nice": false, "zero": false},
              "axis": {"orient": "bottom", "values": [6, 8, 10, 12, 14, 16, 18, 20, 22, 24], "grid": true, "tickSize": -22, "labelPadding": 47, "title": "α", "titleFontStyle": "italic", "titleFontSize": 72, "titlePadding": 8}},
            "y": {"field": "v", "type": "quantitative", "scale": {"domain": [-0.0364, 1.116], "nice": false, "zero": false},
              "axis": {"orient": "left", "values": [0, 0.1, 0.2, 0.3, 0.4, 0.5, 0.6, 0.7, 0.8, 0.9, 1.0, 1.1], "labelExpr": "datum.value === 0 ? '0' : format(datum.value, '.1f')", "grid": true, "tickSize": -22, "labelPadding": 52, "title": "c", "titleFontStyle": "italic", "titleFontSize": 80, "titleX": -145, "titleY": 553}},
            "color": {"field": "m", "type": "nominal",
              "scale": {"domain": ["Exp.", "URANS-SST", "URANS-γ-Re", "TDDES"], "range": ["black", "#d01414", "#3a3aee", "#14c814"]},
              "legend": {
                "orient": "none", "legendX": 52, "legendY": 21, "title": null,
                "fillColor": "white", "padding": 16, "rowPadding": 12,
                "labelFont": "Liberation Serif", "labelFontSize": 66, "labelColor": "black", "labelLimit": 0, "labelOffset": 86,
                "symbolSize": 19600, "symbolStrokeWidth": 5, "symbolType": "stroke", "symbolOffset": 25,
                "encode": {"symbols": {"update": {
                  "shape": {"signal": "datum.value === 'Exp.' ? 'triangle-up' : 'stroke'"},
                  "size": {"signal": "datum.value === 'Exp.' ? 560 : 19600"},
                  "fill": {"signal": "datum.value === 'Exp.' ? 'black' : 'transparent'"},
                  "stroke": {"signal": "datum.value === 'Exp.' ? 'black' : datum.value === 'URANS-SST' ? '#d01414' : datum.value === 'TDDES' ? '#14c814' : '#3a3aee'"},
                  "strokeWidth": {"signal": "datum.value === 'Exp.' ? 0 : 5"},
                  "strokeDash": {"signal": "datum.value === 'URANS-SST' ? [28, 20] : datum.value === 'URANS-γ-Re' ? [24, 8, 5, 8, 5, 8] : [1, 0]"},
                  "opacity": {"value": 1}
                }}}
              }},
            "order": {"value": null}
          }
        },
        {
          "data": {"name": "dragCfd"},
          "transform": [{"filter": "datum.m === 'TDDES'"}],
          "mark": {"type": "line", "strokeWidth": 4.5},
          "encoding": {
            "x": {"field": "a", "type": "quantitative", "scale": {"domain": [4.32, 25.24], "nice": false, "zero": false}, "axis": null},
            "y": {"field": "v", "type": "quantitative", "scale": {"domain": [-0.0364, 1.116], "nice": false, "zero": false}, "axis": null},
            "color": {"field": "m", "type": "nominal"},
            "order": {"value": null}
          }
        },
        {
          "data": {"name": "dragCfd"},
          "transform": [{"filter": "datum.m === 'URANS-γ-Re'"}],
          "mark": {"type": "line", "strokeWidth": 4.5},
          "encoding": {
            "x": {"field": "a", "type": "quantitative", "scale": {"domain": [4.32, 25.24], "nice": false, "zero": false}, "axis": null},
            "y": {"field": "v", "type": "quantitative", "scale": {"domain": [-0.0364, 1.116], "nice": false, "zero": false}, "axis": null},
            "color": {"field": "m", "type": "nominal"},
            "order": {"value": null}
          }
        },
        {
          "data": {"name": "dragExp"},
          "mark": {"type": "point", "shape": "triangle-up", "filled": true, "size": 480, "color": "black", "opacity": 1},
          "encoding": {
            "x": {"field": "a", "type": "quantitative", "scale": {"domain": [4.32, 25.24], "nice": false, "zero": false},
              "axis": {"orient": "bottom", "values": [4.4, 4.8, 5.2, 5.6, 6, 6.4, 6.8, 7.2, 7.6, 8, 8.4, 8.8, 9.2, 9.6, 10, 10.4, 10.8, 11.2, 11.6, 12, 12.4, 12.8, 13.2, 13.6, 14, 14.4, 14.8, 15.2, 15.6, 16, 16.4, 16.8, 17.2, 17.6, 18, 18.4, 18.8, 19.2, 19.6, 20, 20.4, 20.8, 21.2, 21.6, 22, 22.4, 22.8, 23.2, 23.6, 24, 24.4, 24.8, 25.2], "labels": false, "grid": false, "tickSize": -12, "title": null}},
            "y": {"field": "v", "type": "quantitative", "scale": {"domain": [-0.0364, 1.116], "nice": false, "zero": false},
              "axis": {"orient": "left", "values": [-0.02, 0, 0.02, 0.04, 0.06, 0.08, 0.1, 0.12, 0.14, 0.16, 0.18, 0.2, 0.22, 0.24, 0.26, 0.28, 0.3, 0.32, 0.34, 0.36, 0.38, 0.4, 0.42, 0.44, 0.46, 0.48, 0.5, 0.52, 0.54, 0.56, 0.58, 0.6, 0.62, 0.64, 0.66, 0.68, 0.7, 0.72, 0.74, 0.76, 0.78, 0.8, 0.82, 0.84, 0.86, 0.88, 0.9, 0.92, 0.94, 0.96, 0.98, 1.0, 1.02, 1.04, 1.06, 1.08, 1.1], "labels": false, "grid": false, "tickSize": -11, "title": "d", "titleFontSize": 44, "titleX": -132, "titleY": 529}}
          }
        }
      ],
      "resolve": {"axis": {"x": "independent", "y": "independent"}}
    }
  ],
  "config": {
    "view": {"stroke": "black", "strokeWidth": 5},
    "axis": {"domain": false, "labelFont": "Liberation Serif", "labelFontSize": 64, "labelColor": "black", "titleFont": "Liberation Serif", "titleColor": "black", "titleFontWeight": "normal", "tickColor": "black", "tickWidth": 4, "gridColor": "#8a8a8a", "gridDash": [2, 8], "gridWidth": 2.2},
    "title": {"font": "Liberation Serif, Noto Sans CJK SC", "fontSize": 64, "fontWeight": "normal", "color": "black"}
  }
}
